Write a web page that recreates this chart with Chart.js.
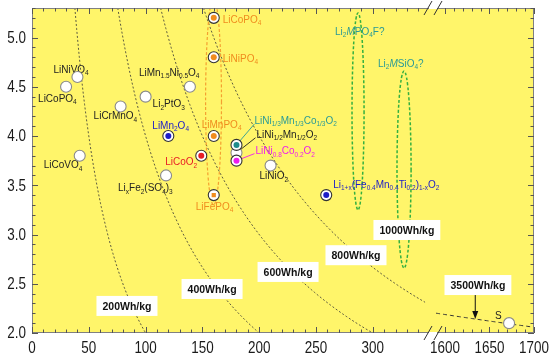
<!DOCTYPE html>
<html>
<head>
<meta charset="utf-8">
<script src="https://cdn.jsdelivr.net/npm/chart.js@4.4.1/dist/chart.umd.min.js"></script>
<style>
  html, body { margin: 0; padding: 0; background: #fff; }
  #chart { display: block; }
</style>
</head>
<body>
<canvas id="chart" width="554" height="363"></canvas>
<script>
// cathode materials (_{..} = subscript, *..* = italic), capacity in mAh/g, voltage in V
var materials = [
    'LiNiVO_{4}', 'LiCoPO_{4}', 'LiMn_{1.5}Ni_{0.5}O_{4}', 'Li_{2}PtO_{3}', 'LiCrMnO_{4}',
    'LiMn_{2}O_{4}', 'LiCoVO_{4}', 'Li_{x}Fe_{2}(SO_{4})_{3}', 'LiCoO_{2}',
    'LiCoPO_{4}', 'LiNiPO_{4}', 'LiMnPO_{4}', 'LiFePO_{4}',
    'LiNi_{1/2}Mn_{1/2}O_{2}', 'LiNi_{1/3}Mn_{1/3}Co_{1/3}O_{2}', 'LiNi_{0.8}Co_{0.2}O_{2}',
    'LiNiO_{2}', 'Li_{1+x}(Fe_{0.4}Mn_{0.4}Ti_{0.2})_{1-x}O_{2}', 'S'
];
var capacity = [40, 30, 139, 100, 78, 120, 42, 118, 149, 160, 160, 160, 160, 180, 180, 180, 210, 259, 1672];
var voltage = [4.6, 4.5, 4.5, 4.4, 4.3, 4.0, 3.8, 3.6, 3.8, 5.2, 4.8, 4.0, 3.4, 3.83, 3.91, 3.75, 3.7, 3.4, 2.1];

// energy density curves (Wh/kg = mAh/g x V)
var energyLevels = [200, 400, 600, 800, 1000, 3500];
var energyLabelCap = [83.6, 158.5, 225.4, 285.2, 330, 1637];
var energyLabelVolt = [2.275, 2.447, 2.62, 2.79, 3.046, 2.487];

// candidate regions (ellipses)
var regionNames = ['', 'Li_{2}*M*PO_{4}F?', 'Li_{2}*M*SiO_{4}?'];
var regionCap = [159.8, 287, 327.5];
var regionVolt = [4.35, 4.25, 3.66];
var regionCapSpread = [7, 5.3, 6.2];
var regionVoltSpread = [1.05, 1.0, 1.0];

var xTickValues = [0, 50, 100, 150, 200, 250, 300, 1600, 1650, 1700];
var yTickValues = [2.0, 2.5, 3.0, 3.5, 4.0, 4.5, 5.0];

// ---- styles ----
var BLUE = '#1c1cc8', RED = '#e81c24', ORANGE = '#f08c1e', TEAL = '#1e8c8c', TEAL_TXT = '#2a9a96', MAG = '#ee1cee', INK = '#222';
var dotColor = [null, null, null, null, null, BLUE, null, null, RED, ORANGE, ORANGE, ORANGE, ORANGE, null, TEAL, MAG, null, BLUE, null];
var textColor = [INK, INK, INK, INK, INK, BLUE, INK, INK, RED, ORANGE, ORANGE, ORANGE, ORANGE, INK, TEAL_TXT, MAG, INK, BLUE, INK];
// pixel offset of label (left, middle) from marker
var labelOffset = [[-24, -7], [-28, 12], [-51, -14], [7, 8], [-27, 10], [-16, -10], [-36, 10], [-48, 13], [-36, 7],
    [9, 2], [9, 2], [-12, -11], [-18, 12], [20, -18], [18, -24], [19, -9], [-11, 11], [7, -10], [-14, -7]];
var leaders = { 13: [19, -15], 14: [18, -21], 15: [18, -7] };
var regionColor = ['#f4a030', '#34b040', '#34b040'];
var regionLabelOffset = [[0, 0], [-23, 19], [-26, -7]];

var FONT = "'Liberation Sans', Arial, sans-serif";

// broken x axis: 0..350 linear, then 1600..1700 squeezed at the right
var AXIS_MAX = 441.9;
function toAxis(c) { return c < 1000 ? c : AXIS_MAX - (1700 - c) * 0.7835; }
var BREAK_AT = 353;

function drawRich(ctx, text, x, y, color, size) {
    var re = /_\{([^}]*)\}|\*([^*]*)\*|([^_*]+)/g, m, cx = x;
    ctx.fillStyle = color;
    ctx.textBaseline = 'middle';
    ctx.textAlign = 'left';
    while ((m = re.exec(text))) {
        var s, dy = 0;
        if (m[1] !== undefined) { s = m[1]; ctx.font = (size * 0.65) + 'px ' + FONT; dy = size * 0.33; }
        else if (m[2] !== undefined) { s = m[2]; ctx.font = 'italic ' + size + 'px ' + FONT; }
        else { s = m[3]; ctx.font = size + 'px ' + FONT; }
        ctx.fillText(s, cx, y + dy);
        cx += ctx.measureText(s).width;
    }
}

// condensed axis numbers
function drawNarrow(ctx, text, x, y, align) {
    ctx.save();
    ctx.translate(x, y);
    ctx.scale(0.84, 1);
    ctx.font = '16px ' + FONT;
    ctx.fillStyle = '#1a1a1a';
    ctx.textAlign = align;
    ctx.textBaseline = 'middle';
    ctx.fillText(text, 0, 0);
    ctx.restore();
}

var decor = {
    id: 'decor',
    beforeDraw: function (chart) {
        var a = chart.chartArea, ctx = chart.ctx;
        ctx.save();
        ctx.fillStyle = '#fff56a';
        ctx.fillRect(a.left, a.top, a.right - a.left, a.bottom - a.top);
        ctx.restore();
    },
    beforeDatasetsDraw: function (chart) {
        var a = chart.chartArea, ctx = chart.ctx, xs = chart.scales.x, ys = chart.scales.y;
        ctx.save();
        ctx.beginPath();
        ctx.rect(a.left, a.top, a.right - a.left, a.bottom - a.top);
        ctx.clip();

        // energy density curves
        energyLevels.forEach(function (e) {
            var c0, c1;
            if (e < 1000) { c0 = e / ys.max; c1 = Math.min(e / ys.min, 346); }
            else { c0 = 1590; c1 = 1700; }
            ctx.beginPath();
            for (var i = 0; i <= 80; i++) {
                var c = c0 + (c1 - c0) * i / 80;
                var px = xs.getPixelForValue(toAxis(c)), py = ys.getPixelForValue(e / c);
                if (i === 0) ctx.moveTo(px, py); else ctx.lineTo(px, py);
            }
            ctx.strokeStyle = '#333';
            ctx.lineWidth = e < 1000 ? 0.8 : 1;
            ctx.setLineDash(e < 1000 ? [2, 2] : [4, 3]);
            ctx.stroke();
        });

        // candidate regions
        regionNames.forEach(function (n, i) {
            var cx = xs.getPixelForValue(toAxis(regionCap[i]));
            var cy = ys.getPixelForValue(regionVolt[i]);
            var rx = Math.abs(xs.getPixelForValue(toAxis(regionCap[i] + regionCapSpread[i])) - cx);
            var ry = Math.abs(ys.getPixelForValue(regionVolt[i] + regionVoltSpread[i]) - cy);
            ctx.beginPath();
            ctx.ellipse(cx, cy, rx, ry, 0, 0, Math.PI * 2);
            ctx.strokeStyle = regionColor[i];
            ctx.lineWidth = i === 0 ? 1.2 : 1.5;
            ctx.setLineDash([3, 2]);
            ctx.stroke();
        });
        ctx.setLineDash([]);

        // energy labels
        energyLevels.forEach(function (e, i) {
            var px = xs.getPixelForValue(toAxis(energyLabelCap[i]));
            var py = ys.getPixelForValue(energyLabelVolt[i]);
            var t = e + 'Wh/kg';
            ctx.font = 'bold 10.5px ' + FONT;
            var w = ctx.measureText(t).width + 12;
            ctx.fillStyle = '#fff';
            ctx.fillRect(px - w / 2, py - 10, w, 20);
            ctx.fillStyle = '#111';
            ctx.textAlign = 'center';
            ctx.textBaseline = 'middle';
            ctx.fillText(t, px, py + 1);
        });
        ctx.restore();

        // leader lines
        ctx.save();
        Object.keys(leaders).forEach(function (k) {
            var i = +k;
            var px = xs.getPixelForValue(toAxis(capacity[i])), py = ys.getPixelForValue(voltage[i]);
            ctx.beginPath();
            ctx.moveTo(px, py);
            ctx.lineTo(px + leaders[k][0], py + leaders[k][1]);
            ctx.strokeStyle = textColor[i];
            ctx.lineWidth = 0.9;
            ctx.stroke();
        });

        // material labels
        materials.forEach(function (n, i) {
            var px = xs.getPixelForValue(toAxis(capacity[i])), py = ys.getPixelForValue(voltage[i]);
            drawRich(ctx, n, px + labelOffset[i][0], py + labelOffset[i][1], textColor[i], 10);
        });

        // region labels
        regionNames.forEach(function (n, i) {
            if (!n) return;
            var px = xs.getPixelForValue(toAxis(regionCap[i]));
            var py = ys.getPixelForValue(regionVolt[i] + regionVoltSpread[i]);
            drawRich(ctx, n, px + regionLabelOffset[i][0], py + regionLabelOffset[i][1], TEAL_TXT, 10);
        });

        // arrow from 3500 label to its curve
        var ax = xs.getPixelForValue(toAxis(1634));
        var ay0 = ys.getPixelForValue(energyLabelVolt[5]) + 10;
        var ay1 = ys.getPixelForValue(3500 / 1634);
        ctx.beginPath();
        ctx.moveTo(ax, ay0);
        ctx.lineTo(ax, ay1 - 6);
        ctx.strokeStyle = '#111';
        ctx.lineWidth = 1;
        ctx.stroke();
        ctx.beginPath();
        ctx.moveTo(ax - 3, ay1 - 8);
        ctx.lineTo(ax + 3, ay1 - 8);
        ctx.lineTo(ax, ay1);
        ctx.closePath();
        ctx.fillStyle = '#111';
        ctx.fill();
        ctx.restore();
    },
    afterDraw: function (chart) {
        var a = chart.chartArea, ctx = chart.ctx, xs = chart.scales.x, ys = chart.scales.y;
        ctx.save();
        ctx.strokeStyle = '#808080';
        ctx.lineWidth = 1;
        ctx.strokeRect(a.left + 0.5, a.top + 0.5, a.right - a.left - 1, a.bottom - a.top - 1);

        ctx.strokeStyle = '#555';
        ctx.beginPath();
        var c, len;
        var xt = [];
        for (c = 0; c <= 340; c += 10) xt.push(c);
        for (c = 1600; c <= 1700; c += 10) xt.push(c);
        xt.forEach(function (c) {
            var px = Math.round(xs.getPixelForValue(toAxis(c))) + 0.5;
            var len = c % 50 === 0 ? 6 : 3.5;
            ctx.moveTo(px, a.bottom); ctx.lineTo(px, a.bottom - len);
            ctx.moveTo(px, a.top); ctx.lineTo(px, a.top + len);
        });
        for (var k = 20; k <= 53; k++) {
            var py = Math.round(ys.getPixelForValue(k / 10)) + 0.5;
            len = k % 5 === 0 ? 6 : 3.5;
            ctx.moveTo(a.left, py); ctx.lineTo(a.left + len, py);
            ctx.moveTo(a.right, py); ctx.lineTo(a.right - len, py);
        }
        ctx.stroke();

        // axis break marks
        var bx = xs.getPixelForValue(BREAK_AT);
        [a.top, a.bottom].forEach(function (y) {
            ctx.fillStyle = '#fff';
            ctx.fillRect(bx - 4, y - 1, 8, 2);
            ctx.beginPath();
            [-5, 5].forEach(function (d) {
                ctx.moveTo(bx + d - 4, y + 7);
                ctx.lineTo(bx + d + 4, y - 7);
            });
            ctx.strokeStyle = '#333';
            ctx.lineWidth = 1;
            ctx.stroke();
        });

        // tick labels
        xs.ticks.forEach(function (t, i) {
            drawNarrow(ctx, String(xTickValues[i]), xs.getPixelForValue(t.value), a.bottom + 16, 'center');
        });
        ys.ticks.forEach(function (t) {
            drawNarrow(ctx, Number(t.value).toFixed(1), a.left - 6, ys.getPixelForValue(t.value) + 1, 'right');
        });
        ctx.restore();
    }
};

var pts = capacity.map(function (c, i) { return { x: toAxis(c), y: voltage[i] }; });
var dotIdx = [];
dotColor.forEach(function (d, i) { if (d) dotIdx.push(i); });

new Chart(document.getElementById('chart'), {
    type: 'scatter',
    data: {
        datasets: [
            {
                order: 2,
                data: pts,
                pointRadius: 5.5,
                pointBackgroundColor: '#fff',
                pointBorderColor: dotColor.map(function (d) { return d ? '#333' : '#8a8a8a'; }),
                pointBorderWidth: 1.1
            },
            {
                order: 1,
                data: dotIdx.map(function (i) { return { x: pts[i].x, y: pts[i].y }; }),
                pointRadius: 3,
                pointStyle: dotIdx.map(function (i) { return i === 12 ? 'rect' : 'circle'; }),
                pointBackgroundColor: dotIdx.map(function (i) { return dotColor[i]; }),
                pointBorderColor: dotIdx.map(function (i) { return dotColor[i]; }),
                pointBorderWidth: 0
            }
        ]
    },
    options: {
        responsive: false,
        animation: false,
        layout: { padding: { top: 8, right: 20, left: 0, bottom: 0 } },
        plugins: { legend: { display: false }, tooltip: { enabled: false } },
        scales: {
            x: {
                type: 'linear',
                min: 0,
                max: AXIS_MAX,
                grid: { display: false, drawTicks: false },
                border: { display: false },
                afterBuildTicks: function (s) { s.ticks = xTickValues.map(function (v) { return { value: toAxis(v) }; }); },
                afterFit: function (s) { s.height = 30; },
                ticks: { display: false, autoSkip: false }
            },
            y: {
                type: 'linear',
                min: 2.0,
                max: 5.3,
                grid: { display: false, drawTicks: false },
                border: { display: false },
                afterBuildTicks: function (s) { s.ticks = yTickValues.map(function (v) { return { value: v }; }); },
                afterFit: function (s) { s.width = 32; },
                ticks: { display: false }
            }
        }
    },
    plugins: [decor]
});
</script>
</body>
</html>
